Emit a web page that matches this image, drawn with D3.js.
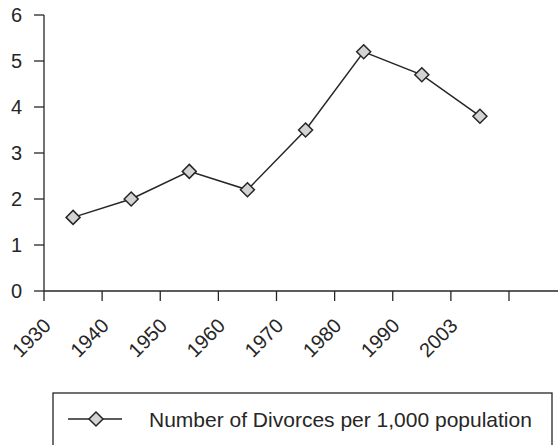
<!DOCTYPE html>
<html>
<head>
<meta charset="utf-8">
<script src="https://cdn.jsdelivr.net/npm/d3@7"></script>
<style>
  body { margin: 0; background: #fff; }
  svg { display: block; }
</style>
</head>
<body>
<svg id="chart" width="558" height="445"></svg>
<script>
// ========= Data ========= //
const years = ['1930', '1940', '1950', '1960', '1970', '1980', '1990', '2003'];
const divorces = [1.6, 2.0, 2.6, 2.2, 3.5, 5.2, 4.7, 3.8];
const yTicks = [0, 1, 2, 3, 4, 5, 6];
const seriesName = 'Number of Divorces per 1,000 population';

const font = 'Liberation Sans, Arial, sans-serif';
const ink = '#262626';

const svg = d3.select('#chart');

// ========= Scales ========= //
const x = d3.scaleBand()
  .domain(years)
  .range([44, 509]);

const y = d3.scaleLinear()
  .domain([0, 6])
  .range([291, 15]);

// ========= Y axis ========= //
svg.append('line')
  .attr('x1', 44).attr('x2', 44)
  .attr('y1', y(6)).attr('y2', y(0))
  .attr('stroke', ink).attr('stroke-width', 1.3);

svg.append('g')
  .selectAll('line')
  .data(yTicks)
  .join('line')
    .attr('x1', 34).attr('x2', 44)
    .attr('y1', d => y(d)).attr('y2', d => y(d))
    .attr('stroke', ink).attr('stroke-width', 1.3);

svg.append('g')
  .selectAll('text')
  .data(yTicks)
  .join('text')
    .attr('x', 22)
    .attr('y', d => y(d))
    .attr('dy', '0.36em')
    .attr('text-anchor', 'end')
    .attr('font-family', font)
    .attr('font-size', '20px')
    .attr('fill', ink)
    .text(d => d);

// ========= X axis ========= //
const bounds = years.map(d => x(d)).concat([x.range()[1]]);

svg.append('line')
  .attr('x1', 44).attr('x2', 558)
  .attr('y1', y(0)).attr('y2', y(0))
  .attr('stroke', ink).attr('stroke-width', 1.3);

svg.append('g')
  .selectAll('line')
  .data(bounds)
  .join('line')
    .attr('x1', d => d).attr('x2', d => d)
    .attr('y1', y(0)).attr('y2', y(0) + 10)
    .attr('stroke', ink).attr('stroke-width', 1.3);

svg.append('g')
  .selectAll('text')
  .data(years)
  .join('text')
    .attr('transform', d => `translate(${x(d) + 8} ${y(0) + 36}) rotate(-45)`)
    .attr('text-anchor', 'end')
    .attr('font-family', font)
    .attr('font-size', '20px')
    .attr('fill', ink)
    .text(d => d);

// ========= Series ========= //
const pts = years.map((d, i) => ({ year: d, value: divorces[i] }));
const cx = d => x(d.year) + x.bandwidth() / 2;

svg.append('path')
  .datum(pts)
  .attr('d', d3.line().x(cx).y(d => y(d.value)))
  .attr('fill', 'none')
  .attr('stroke', ink)
  .attr('stroke-width', 1.5);

const diamond = 'M0,-7L7,0L0,7L-7,0Z';

svg.append('g')
  .selectAll('path')
  .data(pts)
  .join('path')
    .attr('d', diamond)
    .attr('transform', d => `translate(${cx(d)} ${y(d.value)})`)
    .attr('fill', '#d2d3d5')
    .attr('stroke', ink)
    .attr('stroke-width', 1.5);

// ========= Legend ========= //
const legend = svg.append('g');

legend.append('rect')
  .attr('x', 53).attr('y', 393)
  .attr('width', 499).attr('height', 80)
  .attr('fill', 'none')
  .attr('stroke', ink)
  .attr('stroke-width', 1.3);

legend.append('line')
  .attr('x1', 68).attr('x2', 122)
  .attr('y1', 419).attr('y2', 419)
  .attr('stroke', ink).attr('stroke-width', 1.5);

legend.append('path')
  .attr('d', diamond)
  .attr('transform', 'translate(96 419)')
  .attr('fill', '#d2d3d5')
  .attr('stroke', ink)
  .attr('stroke-width', 1.5);

legend.append('text')
  .attr('x', 149).attr('y', 427)
  .attr('font-family', font)
  .attr('font-size', '21px')
  .attr('fill', ink)
  .text(seriesName);
</script>
</body>
</html>
